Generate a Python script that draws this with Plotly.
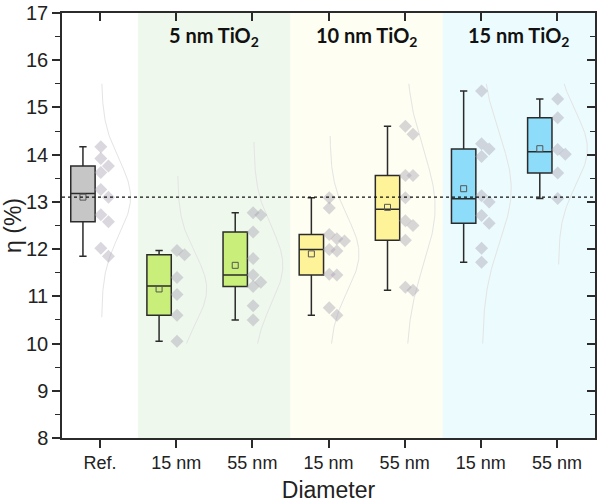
import numpy as np
import plotly.graph_objects as go

# ---------------- data ----------------
categories = ["Ref.", "15 nm", "55 nm", "15 nm", "55 nm", "15 nm", "55 nm"]
group_labels = ["5 nm TiO<sub>2</sub>", "10 nm TiO<sub>2</sub>", "15 nm TiO<sub>2</sub>"]

eff_ref = [14.17, 13.92, 13.76, 13.62, 13.26, 13.10, 12.73, 12.58, 12.02, 11.85]
eff_5nm_15 = [11.97, 11.88, 11.40, 11.04, 10.60, 10.05]
eff_5nm_55 = [12.77, 12.72, 12.36, 11.80, 11.45, 11.30, 11.21, 10.80, 10.50]
eff_10nm_15 = [13.09, 12.87, 12.31, 12.22, 12.17, 11.99, 11.96, 11.47, 11.45, 10.76, 10.60]
eff_10nm_55 = [14.60, 14.43, 13.56, 13.56, 13.09, 12.60, 12.50, 12.19, 11.19, 11.13]
eff_15nm_15 = [15.35, 14.23, 14.12, 13.96, 13.13, 13.00, 12.71, 12.55, 12.02, 11.72]
eff_15nm_55 = [15.18, 14.78, 14.11, 14.01, 13.61, 13.07]

series = [eff_ref, eff_5nm_15, eff_5nm_55, eff_10nm_15, eff_10nm_55, eff_15nm_15, eff_15nm_55]

# ---------------- styling ----------------
box_colors = ["#c6c6c6", "#c9ef7a", "#c9ef7a", "#fff39a", "#fff39a", "#8ddcfa", "#8ddcfa"]
band_colors = ["#eef8ec", "#fefef2", "#ecfbfe"]
diamond_color = "rgba(168,160,176,0.42)"
curve_color = "#e4e4e4"
edge = "#2b2b2b"
font_family = "Liberation Sans, Arial"

pos = np.arange(len(categories))
box_off = -0.225
box_w = 0.32


def nearest_rank(vals, p):
    s = np.sort(vals)
    k = int(np.ceil(p * len(s))) - 1
    return s[max(k, 0)]


def swarm(vals, thr=0.2, step=0.1):
    placed = []
    ks = []
    for v in vals:
        k = 0
        while any(pk == k and abs(pv - v) < thr for pv, pk in placed):
            k += 1
        placed.append((v, k))
        ks.append(k)
    return np.array(ks) * step


fig = go.Figure()

# background bands
for g, col in enumerate(band_colors):
    fig.add_shape(type="rect", xref="x", yref="y",
                  x0=pos[1 + 2 * g] - 0.5, x1=pos[2 + 2 * g] + 0.5, y0=8, y1=17,
                  fillcolor=col, line=dict(width=0), layer="below")

# distribution curves
for i, vals in enumerate(series):
    v = np.array(vals)
    m, s = v.mean(), v.std(ddof=1)
    yy = np.linspace(max(10.0, m - 3.2 * s), min(15.5, m + 3.2 * s), 120)
    xx = pos[i] + 0.02 + 0.38 * np.exp(-0.5 * ((yy - m) / s) ** 2)
    fig.add_trace(go.Scatter(x=xx, y=yy, mode="lines", line=dict(color=curve_color, width=1),
                             showlegend=False, hoverinfo="skip"))

# reference mean dotted line
fig.add_shape(type="line", xref="paper", yref="y", x0=0, x1=1,
              y0=float(np.mean(eff_ref)), y1=float(np.mean(eff_ref)),
              line=dict(color="#111", width=1.3, dash="dot"))

# data points (diamonds)
for i, vals in enumerate(series):
    off = swarm(vals)
    fig.add_trace(go.Scatter(x=pos[i] + 0.01 + off, y=vals, mode="markers",
                             marker=dict(symbol="diamond", size=10, color=diamond_color,
                                         line=dict(width=0)),
                             showlegend=False, hoverinfo="y"))

# boxes
for i, vals in enumerate(series):
    v = np.array(vals)
    fig.add_trace(go.Box(
        x=[pos[i] + box_off],
        q1=[nearest_rank(v, 0.25)], median=[float(np.median(v))], q3=[nearest_rank(v, 0.75)],
        lowerfence=[v.min()], upperfence=[v.max()],
        width=box_w, whiskerwidth=0.3,
        fillcolor=box_colors[i], line=dict(color=edge, width=1.5),
        showlegend=False, boxpoints=False))

# means (open squares)
fig.add_trace(go.Scatter(x=pos + box_off, y=[float(np.mean(s)) for s in series], mode="markers",
                         marker=dict(symbol="square-open", size=6, color="#555",
                                     line=dict(width=1)),
                         showlegend=False, hoverinfo="y"))

# dummy for mirrored axes
fig.add_trace(go.Scatter(x=[pos[0]], y=[8], xaxis="x2", yaxis="y2", mode="markers",
                         marker=dict(opacity=0), showlegend=False, hoverinfo="skip"))

# group labels
for g, lab in enumerate(group_labels):
    fig.add_annotation(x=(pos[1 + 2 * g] + pos[2 + 2 * g]) / 2, y=16.5, xref="x", yref="y",
                       text="<b>" + lab + "</b>", showarrow=False,
                       font=dict(family="Lato, Open Sans", size=20, color="#111"))

xr = [-0.5, 6.5]
yr = [8, 17]
fig.update_layout(
    width=597, height=503,
    margin=dict(l=62, r=2, t=8, b=65),
    plot_bgcolor="white", paper_bgcolor="white",
    showlegend=False,
    xaxis=dict(range=xr, tickvals=pos, ticktext=categories, ticks="outside", ticklen=8,
               tickwidth=1.5, tickcolor=edge, showline=True, linecolor=edge, linewidth=1.5,
               showgrid=False, zeroline=False,
               tickfont=dict(family=font_family, size=18, color="#222"),
               title=dict(text="Diameter", font=dict(family=font_family, size=23, color="#222"),
                          standoff=12)),
    xaxis2=dict(range=xr, overlaying="x", side="top", tickvals=pos, ticks="inside", ticklen=8,
                tickwidth=1.5, tickcolor=edge, showline=True, linecolor=edge, linewidth=1.5,
                showticklabels=False, showgrid=False, zeroline=False),
    yaxis=dict(range=yr, dtick=1, tick0=8, ticks="outside", ticklen=8, tickwidth=1.5, tickcolor=edge,
               minor=dict(dtick=0.5, ticks="outside", ticklen=5, tickwidth=1.3, tickcolor=edge),
               showline=True, linecolor=edge, linewidth=1.5, showgrid=False, zeroline=False,
               ticklabeloverflow="allow",
               tickfont=dict(family=font_family, size=20, color="#222"),
               title=dict(text="η (%)", font=dict(family=font_family, size=23, color="#222"),
                          standoff=2)),
    yaxis2=dict(range=yr, overlaying="y", side="right", dtick=1, tick0=8, ticks="inside", ticklen=8,
                tickwidth=1.5, tickcolor=edge,
                minor=dict(dtick=0.5, ticks="inside", ticklen=5, tickwidth=1.3, tickcolor=edge),
                showline=True, linecolor=edge, linewidth=1.5, showticklabels=False,
                showgrid=False, zeroline=False),
)

fig.write_html("out.html")
